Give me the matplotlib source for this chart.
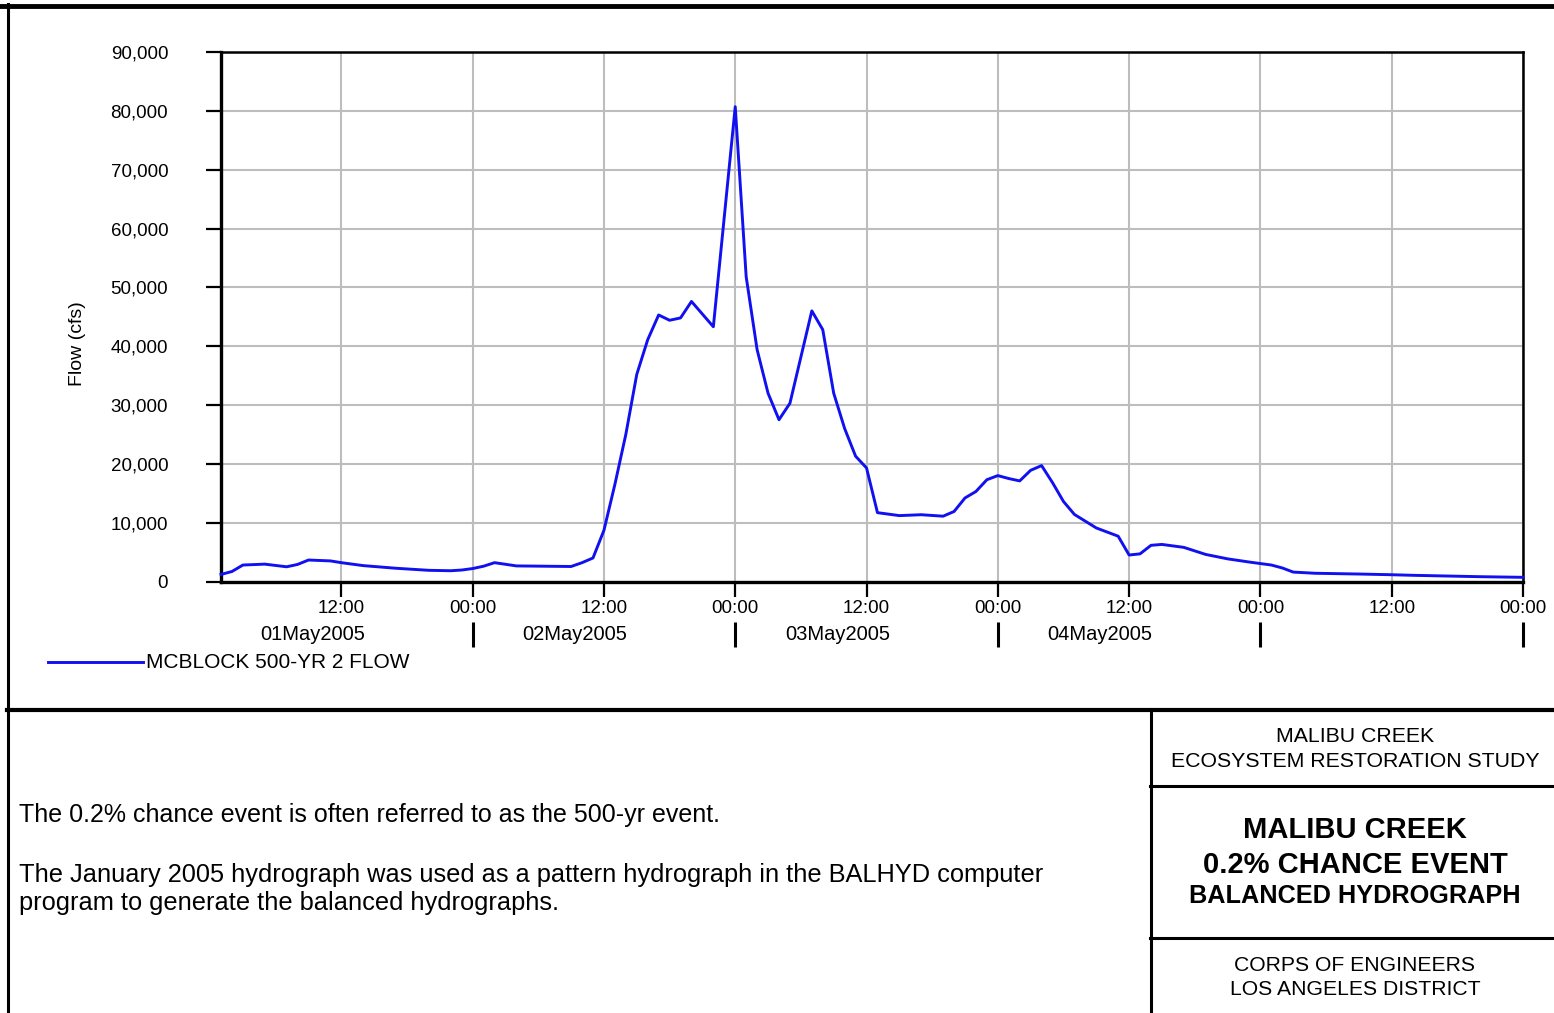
import numpy as np
import matplotlib
matplotlib.use("Agg")
import matplotlib.pyplot as plt
from matplotlib.lines import Line2D
from matplotlib.ticker import FuncFormatter

plt.rcParams['font.family'] = ['Liberation Sans', 'DejaVu Sans']
NARROW = ['Liberation Sans Narrow', 'Liberation Sans', 'DejaVu Sans']

# hours after 01May2005 00:00, flow in cfs
hours = [1, 2, 3, 5, 7, 8, 9, 11, 12, 14, 17, 20, 22, 23, 24, 25, 26, 28,
         33, 34, 35, 36, 37, 38, 39, 40, 41, 42, 43, 44, 46, 48, 49, 50,
         51, 52, 53, 55, 56, 57, 58, 59, 60, 61, 63, 65, 67, 68, 69, 70,
         71, 72, 73, 74, 75, 76, 77, 78, 79, 81, 83, 84, 85, 86, 87, 89,
         91, 93, 95, 97, 98, 99, 101, 105, 108, 110, 116, 120]
flow = [1200, 1700, 2800, 2950, 2500, 2900, 3650, 3500, 3200, 2700, 2250,
        1900, 1830, 1950, 2200, 2600, 3200, 2650, 2550, 3200, 4000, 8700,
        16500, 25000, 35200, 41100, 45300, 44400, 44800, 47600, 43300,
        80700, 51800, 39400, 32000, 27500, 30300, 46000, 42800, 32000,
        26000, 21300, 19300, 11700, 11200, 11350, 11100, 11900, 14200,
        15300, 17300, 18000, 17500, 17100, 18900, 19700, 16800, 13600,
        11400, 9100, 7700, 4500, 4700, 6150, 6300, 5800, 4600, 3850, 3300,
        2800, 2300, 1600, 1400, 1270, 1150, 1050, 820, 710]

series_name = "MCBLOCK 500-YR 2 FLOW"
x_ticks = list(range(12, 121, 12))
x_ticklabels = ["12:00" if t % 24 else "00:00" for t in x_ticks]
day_labels = ["01May2005", "02May2005", "03May2005", "04May2005"]
day_bounds = [24, 48, 72, 96, 120]
y_ticks = list(range(0, 90001, 10000))

W, H = 1554, 1013
fig = plt.figure(figsize=(W / 100, H / 100), dpi=100)

# chart
ax = fig.add_axes([221 / W, 1 - 581.5 / H, (1523 - 221) / W, (581.5 - 52) / H])
ax.plot(hours, flow, color='#1010f0', lw=2.1, zorder=3, clip_on=False)
ax.set_xlim(1, 120)
ax.set_ylim(0, 90000)
ax.set_xticks(x_ticks)
ax.set_xticklabels(x_ticklabels, fontsize=13.5, family=NARROW)
ax.set_yticks(y_ticks)
ax.yaxis.set_major_formatter(FuncFormatter(lambda v, p: f"{int(v):,}"))
for lab in ax.get_yticklabels():
    lab.set_family(NARROW)
ax.tick_params(axis='y', direction='out', length=11, width=1.6, pad=27, labelsize=13.5)
ax.tick_params(axis='x', direction='out', length=11, width=1.6, pad=2)
ax.grid(True, color='#bdbdbd', lw=1.5)
ax.set_axisbelow(True)
for s in ax.spines.values():
    s.set_linewidth(1.8)
    s.set_color('black')
ax.spines['left'].set_linewidth(2.4)
ax.spines['bottom'].set_linewidth(2.4)
ax.set_ylabel("Flow (cfs)", fontsize=14, family=NARROW)
ax.yaxis.set_label_coords(-0.104, 0.45)

# day labels and separators below the time ticks
xt = ax.get_xaxis_transform()
for i, d in enumerate(day_labels):
    ax.text(9.35 + 24 * i, -0.100, d, transform=xt, ha='center', va='center',
            fontsize=14.5, family=NARROW)
ax.vlines(day_bounds, -0.123, -0.077, transform=xt, colors='black', lw=2.2, clip_on=False)

# legend line + label
fig.add_artist(Line2D([48 / W, 143 / W], [1 - 662 / H] * 2, color='#1010f0', lw=2.1))
fig.text(146 / W, 1 - 662 / H, series_name, fontsize=15, family=NARROW, va='center', ha='left')

# frame and title block lines
def hline(y, x0, x1, lw):
    fig.add_artist(Line2D([x0 / W, x1 / W], [1 - y / H] * 2, color='black', lw=lw))

def vline(x, y0, y1, lw):
    fig.add_artist(Line2D([x / W] * 2, [1 - y0 / H, 1 - y1 / H], color='black', lw=lw))

hline(6, 0, W, 3.5)
vline(8, 4, H, 2.2)
hline(710, 7, W, 3.0)
vline(1151, 709, H, 2.2)
hline(786, 1150, W, 2.2)
hline(938, 1150, W, 2.2)

fig.text(19 / W, 1 - 815 / H, "The 0.2% chance event is often referred to as the 500-yr event.",
         fontsize=18, ha='left', va='center')
fig.text(19 / W, 1 - 889 / H,
         "The January 2005 hydrograph was used as a pattern hydrograph in the BALHYD computer\n"
         "program to generate the balanced hydrographs.",
         fontsize=18.3, ha='left', va='center', linespacing=1.18)

cx = 1355 / W
fig.text(cx, 1 - 736 / H, "MALIBU CREEK", fontsize=15.3, ha='center', va='center')
fig.text(cx, 1 - 761 / H, "ECOSYSTEM RESTORATION STUDY", fontsize=15.3, ha='center', va='center')
fig.text(cx, 1 - 830 / H, "MALIBU CREEK", fontsize=21, ha='center', va='center', weight='bold')
fig.text(cx, 1 - 865 / H, "0.2% CHANCE EVENT", fontsize=21, ha='center', va='center', weight='bold')
fig.text(cx, 1 - 896 / H, "BALANCED HYDROGRAPH", fontsize=18.2, ha='center', va='center', weight='bold')
fig.text(cx, 1 - 965 / H, "CORPS OF ENGINEERS", fontsize=15.2, ha='center', va='center')
fig.text(cx, 1 - 989 / H, "LOS ANGELES DISTRICT", fontsize=15.2, ha='center', va='center')

fig.savefig("out.png", dpi=100)
